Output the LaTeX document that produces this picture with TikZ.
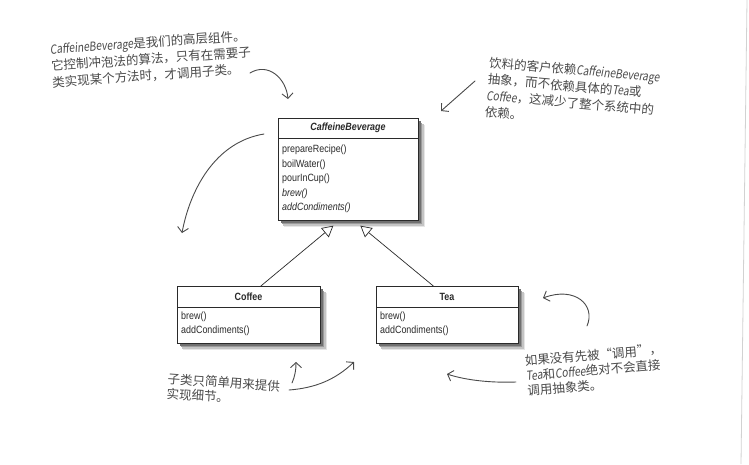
\documentclass[tikz,border=0pt]{standalone}
\usepackage{fontspec}
\usetikzlibrary{arrows.meta}
\newfontfamily\umlf[FakeStretch=0.85]{Liberation Sans}
\newfontfamily\hwf{Noto Sans CJK SC}
\newfontfamily\hwlat[FakeStretch=0.82,FakeSlant=0.12]{Noto Sans CJK SC}
\newcommand\lat[1]{{\hwlat #1}}
\definecolor{ink}{HTML}{2A2A2A}
\definecolor{notec}{HTML}{4A4A4A}
\definecolor{sh1}{HTML}{E6E6E6}
\definecolor{sh2}{HTML}{C4C4C4}
\definecolor{sh3}{HTML}{9A9A9A}
\definecolor{sh4}{HTML}{707070}
\begin{document}
\begin{tikzpicture}[x=1pt,y=-1pt,
  umlbox/.style={draw=ink, line width=0.7pt, fill=white, inner sep=0pt, anchor=north west},
  hdr/.style={font=\umlf\fontsize{10.5}{12}\selectfont\bfseries, text=ink, inner sep=0pt},
  meth/.style={font=\umlf\fontsize{10.5}{12}\selectfont, text=ink, anchor=west, inner sep=0pt},
  notetext/.style={font=\hwf\fontsize{12.5}{16.5}\selectfont, text=notec, align=left, anchor=west, inner sep=0pt},
  inh/.style={draw=ink, line width=0.7pt, -{Triangle[open,length=11pt,width=12pt,fill=white]}},
  hand/.style={draw=notec, line width=0.9pt, line cap=round, -{Straight Barb[length=5pt,width=11pt]}}
]
\fill[white] (0,0) rectangle (749,464);
\useasboundingbox (0,0) rectangle (749,464);
\draw[gray!35, line width=0.8pt] (747,0) -- (741,464);

% shadows
\fill[sh1] (284,125) rectangle (425,227);
\fill[sh2] (283,124) rectangle (423.5,225.5);
\fill[sh3] (282,122.5) rectangle (422,224);
\fill[sh4] (281,121) rectangle (420.5,222.5);
\fill[sh1] (183,293) rectangle (327,350);
\fill[sh2] (182,292) rectangle (325.5,348.5);
\fill[sh3] (181,290.5) rectangle (324,347);
\fill[sh4] (180,289) rectangle (322.5,345.5);
\fill[sh1] (382,293) rectangle (525,350);
\fill[sh2] (381,292) rectangle (523.5,348.5);
\fill[sh3] (380,290.5) rectangle (522,347);
\fill[sh4] (379,289) rectangle (520.5,345.5);

% CaffeineBeverage
\node[umlbox, minimum width=140pt, minimum height=102pt] (cb) at (278,118) {};
\draw[ink, line width=0.6pt] ([yshift=-20pt]cb.north west) -- ([yshift=-20pt]cb.north east);
\node[hdr] (cbt) at (348,128) {\itshape CaffeineBeverage};
\node[meth] (cb1) at (282,150) {prepareRecipe()};
\node[meth] (cb2) at (282,164.5) {boilWater()};
\node[meth] (cb3) at (282,179) {pourInCup()};
\node[meth] (cb4) at (282,193.5) {\itshape brew()};
\node[meth] (cb5) at (282,208) {\itshape addCondiments()};

% Coffee
\node[umlbox, minimum width=143pt, minimum height=57pt] (coffee) at (177,286) {};
\draw[ink, line width=0.6pt] ([yshift=-21pt]coffee.north west) -- ([yshift=-21pt]coffee.north east);
\node[hdr] (cft) at (248.5,297) {Coffee};
\node[meth] (cf1) at (181,317) {brew()};
\node[meth] (cf2) at (181,331) {addCondiments()};

% Tea
\node[umlbox, minimum width=142pt, minimum height=57pt] (tea) at (376,286) {};
\draw[ink, line width=0.6pt] ([yshift=-21pt]tea.north west) -- ([yshift=-21pt]tea.north east);
\node[hdr] (tt) at (447,297) {Tea};
\node[meth] (t1) at (380,317) {brew()};
\node[meth] (t2) at (380,331) {addCondiments()};

% inheritance
\draw[inh] ([xshift=12pt]coffee.north) -- ([xshift=-15pt,yshift=-5pt]cb.south);
\draw[inh] ([xshift=-14pt]tea.north) -- ([xshift=12pt,yshift=-5pt]cb.south);

% annotations
\node[notetext, rotate=4] (n1) at (51,66) {\lat{CaffeineBeverage}是我们的高层组件。\\它控制冲泡法的算法，只有在需要子\\类实现某个方法时，才调用子类。};
\node[notetext, rotate=-5] (n2) at (487,87) {饮料的客户依赖\lat{CaffeineBeverage}\\抽象，而不依赖具体的\lat{Tea}或\\\lat{Coffee}，这减少了整个系统中的\\依赖。};
\node[notetext, rotate=-4, font=\hwf\fontsize{12.5}{15}\selectfont] (n3) at (167,386) {子类只简单用来提供\\实现细节。};
\node[notetext, rotate=5, font=\hwf\fontsize{12.5}{15}\selectfont] (n4) at (526,376) {如果没有先被“调用”，\\\lat{Tea}和\lat{Coffee}绝对不会直接\\调用抽象类。};

% annotation arrows
\coordinate (a1s) at (250,73);  \coordinate (a1e) at (288,99);
\coordinate (a2s) at (264,134); \coordinate (a2e) at (182,233);
\coordinate (a3s) at (475,81);  \coordinate (a3e) at (441,111);
\coordinate (a4s) at (587,326); \coordinate (a4e) at (543,298);
\coordinate (a5s) at (516,382); \coordinate (a5e) at (447,374);
\coordinate (a6s) at (292,383); \coordinate (a6e) at (296,362);
\coordinate (a7s) at (289,390); \coordinate (a7e) at (354,362);
\draw[hand] (a1s) .. controls (268,62) and (286,78) .. (a1e);
\draw[hand] (a2s) .. controls (215,142) and (190,190) .. (a2e);
\draw[hand] (a3s) -- (a3e);
\draw[hand] (a4s) .. controls (596,305) and (575,286) .. (a4e);
\draw[hand] (a5s) .. controls (490,383) and (465,380) .. (a5e);
\draw[hand] (a6s) .. controls (295,376) and (296,370) .. (a6e);
\draw[hand] (a7s) .. controls (315,388) and (335,380) .. (a7e);
\end{tikzpicture}
\end{document}
